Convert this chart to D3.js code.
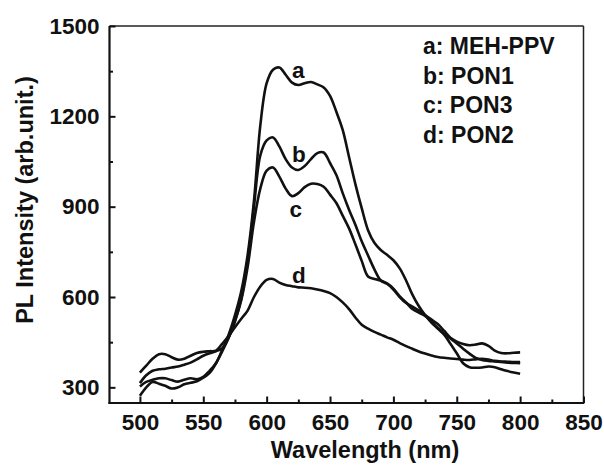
<!DOCTYPE html>
<html>
<head>
<meta charset="utf-8">
<script src="https://cdn.jsdelivr.net/npm/d3@7"></script>
<style>
  body { margin: 0; background: #fff; }
  text { font-family: "Liberation Sans", Arial, sans-serif; font-weight: bold; fill: #111; }
</style>
</head>
<body>
<div id="chart"></div>
<script>
// wavelength grid (nm), 5 nm step
const wavelength = d3.range(500, 801, 5);

// a: MEH-PPV
const meh = [272, 300, 318, 312, 305, 296, 300, 310, 315, 320, 332, 348, 380, 425, 475, 540, 620, 740, 920, 1170,
  1310, 1355, 1362, 1338, 1312, 1304, 1310, 1314, 1306, 1296, 1268, 1215, 1155, 1065, 975, 895, 822, 780, 756, 740,
  722, 695, 655, 608, 570, 540, 515, 495, 475, 445, 413, 380, 367, 365, 366, 369, 367, 360, 354, 349, 345];
// b: PON1
const pon1 = [314, 340, 355, 360, 362, 366, 369, 375, 382, 393, 405, 413, 420, 430, 465, 520, 595, 720, 900, 1070,
  1120, 1130, 1100, 1058, 1030, 1022, 1035, 1058, 1078, 1080, 1045, 1005, 945, 890, 840, 785, 738, 692, 655, 644,
  625, 600, 580, 568, 556, 540, 525, 510, 488, 465, 452, 444, 440, 442, 446, 438, 422, 414, 413, 415, 416];
// c: PON3
const pon3 = [303, 318, 325, 330, 330, 324, 319, 325, 330, 327, 335, 355, 380, 420, 465, 520, 590, 700, 850, 960,
  1020, 1030, 1000, 960, 935, 945, 965, 976, 975, 966, 940, 912, 870, 828, 775, 720, 668, 660, 655, 645,
  628, 602, 582, 560, 548, 537, 518, 497, 478, 462, 446, 428, 412, 398, 391, 388, 386, 384, 382, 381, 380];
// d: PON2
const pon2 = [349, 372, 395, 410, 410, 400, 392, 395, 405, 414, 418, 420, 422, 445, 470, 500, 528, 555, 600, 635,
  657, 660, 648, 640, 636, 632, 631, 629, 625, 620, 613, 600, 582, 560, 532, 508, 495, 484, 475, 466,
  458, 447, 437, 428, 419, 412, 406, 401, 398, 396, 394, 392, 391, 393, 395, 392, 388, 386, 385, 384, 384];

const series = [meh, pon1, pon3, pon2];
const legendLines = ["a: MEH-PPV", "b: PON1", "c: PON3", "d: PON2"];
const curveTags = ["a", "b", "c", "d"];
const tagAt = [[625, 1327], [625.5, 1048], [623, 866], [625.5, 646]];

const xMajor = d3.range(500, 851, 50);
const xMinor = d3.range(525, 826, 50);
const yMajor = d3.range(300, 1501, 300);
const yMinor = [450, 750, 1050, 1350];

const W = 604, H = 465;
const mLeft = 109.5, mRight = 583.5, mTop = 26, mBottom = 403;

const svg = d3.select("#chart").append("svg")
  .attr("width", W).attr("height", H);

const x = d3.scaleLinear().domain([476, 850]).range([mLeft, mRight]);
const y = d3.scaleLinear().domain([248, 1500]).range([mBottom, mTop]);

// frame: top & right thinner
svg.append("line").attr("x1", mLeft).attr("x2", mRight).attr("y1", mTop).attr("y2", mTop)
  .attr("stroke", "#222").attr("stroke-width", 1.5);
svg.append("line").attr("x1", mRight).attr("x2", mRight).attr("y1", mTop).attr("y2", mBottom)
  .attr("stroke", "#222").attr("stroke-width", 1.5);

// minor ticks
svg.append("g").attr("transform", `translate(0,${mBottom})`)
  .call(d3.axisBottom(x).tickValues(xMinor).tickSize(-3.5).tickFormat(""))
  .call(g => g.select(".domain").remove())
  .selectAll("line").attr("stroke", "#111").attr("stroke-width", 2);
svg.append("g").attr("transform", `translate(${mLeft},0)`)
  .call(d3.axisLeft(y).tickValues(yMinor).tickSize(-3.5).tickFormat(""))
  .call(g => g.select(".domain").remove())
  .selectAll("line").attr("stroke", "#111").attr("stroke-width", 2);

// major axes
const fmt = d3.format("d");
const gx = svg.append("g").attr("transform", `translate(0,${mBottom})`)
  .call(d3.axisBottom(x).tickValues(xMajor).tickFormat(fmt).tickSize(-6.5).tickSizeOuter(0).tickPadding(11));
const gy = svg.append("g").attr("transform", `translate(${mLeft},0)`)
  .call(d3.axisLeft(y).tickValues(yMajor).tickFormat(fmt).tickSize(-6).tickSizeOuter(0).tickPadding(10));

[gx, gy].forEach(g => {
  g.select(".domain").attr("stroke", "#111").attr("stroke-width", 2.2);
  g.selectAll(".tick line").attr("stroke", "#111").attr("stroke-width", 2);
  g.selectAll(".tick text").style("font-size", "22.5px").style("font-family", "Liberation Sans, Arial, sans-serif")
    .style("font-weight", "bold").attr("fill", "#111");
});
// extend axis lines to the corner
gx.select(".domain").attr("d", `M${mLeft - 1},0H${mRight + 0.75}`);
gy.select(".domain").attr("d", `M0,${mBottom + 1}V${mTop}`);

// axis titles
svg.append("text").attr("x", 365).attr("y", 458).attr("text-anchor", "middle")
  .style("font-size", "23.5px").text("Wavelength (nm)");
svg.append("text").attr("transform", "translate(33.3,200) rotate(-90)").attr("text-anchor", "middle")
  .style("font-size", "23.5px").text("PL Intensity (arb.unit.)");

// curves
const line = d3.line()
  .x((d, i) => x(wavelength[i]))
  .y(d => y(d))
  .curve(d3.curveCatmullRom.alpha(0.5));

svg.append("g").selectAll("path")
  .data(series)
  .join("path")
  .attr("d", line)
  .attr("fill", "none")
  .attr("stroke", "#111")
  .attr("stroke-width", 2.6)
  .attr("stroke-linejoin", "round");

// curve tags
svg.append("g").selectAll("text")
  .data(curveTags)
  .join("text")
  .attr("x", (d, i) => x(tagAt[i][0]))
  .attr("y", (d, i) => y(tagAt[i][1]))
  .attr("text-anchor", "middle")
  .style("font-size", "22.5px")
  .text(d => d);

// legend
svg.append("g").selectAll("text")
  .data(legendLines)
  .join("text")
  .attr("x", 423)
  .attr("y", (d, i) => 54 + i * 29.7)
  .style("font-size", "23px")
  .text(d => d);
</script>
</body>
</html>
